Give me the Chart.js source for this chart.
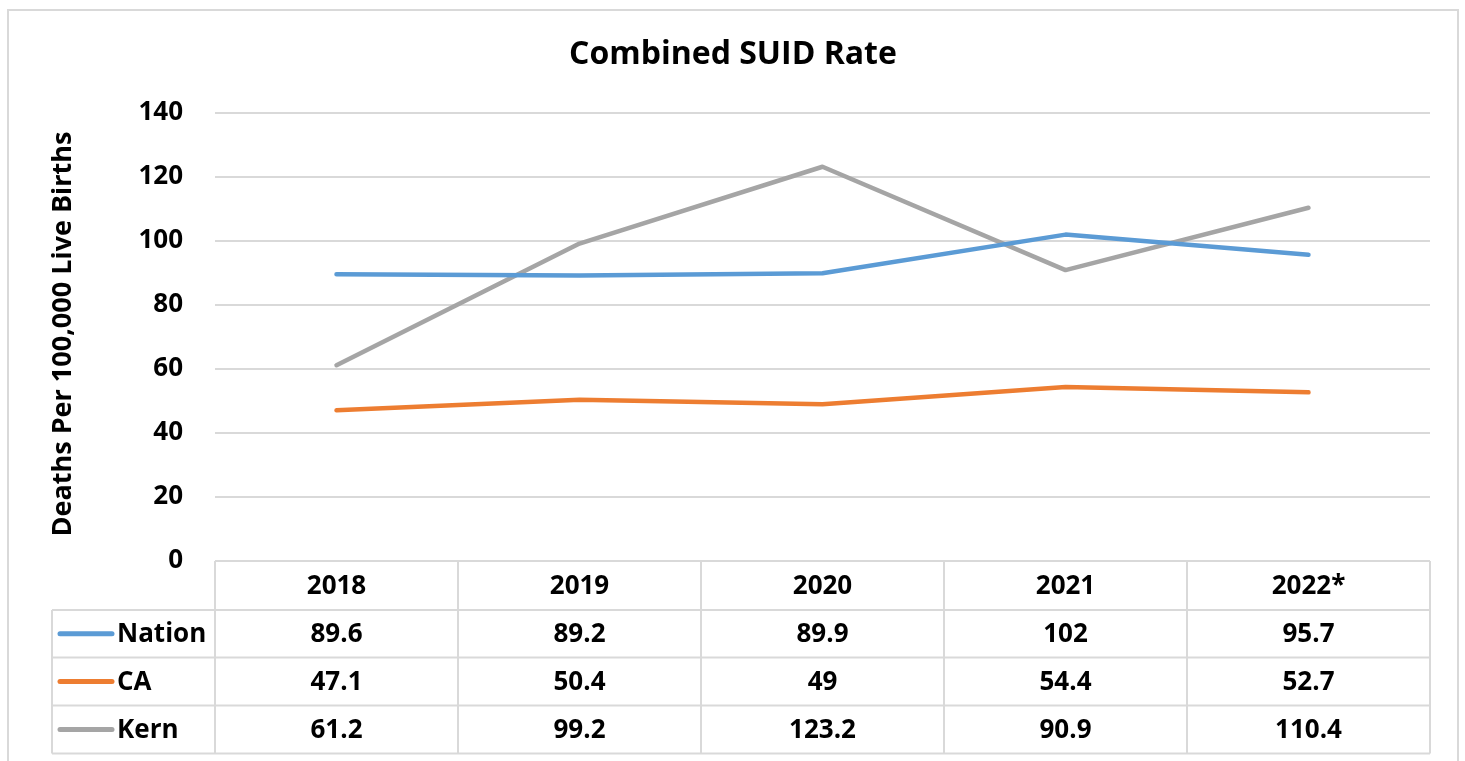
<!DOCTYPE html>
<html>
<head>
<meta charset="utf-8">
<script src="https://cdn.jsdelivr.net/npm/chart.js@4/dist/chart.umd.min.js"></script>
<style>
  html, body { margin: 0; padding: 0; background: #fff; }
  #wrap { width: 1465px; height: 761px; position: relative; }
</style>
</head>
<body>
<div id="wrap"><canvas id="c" width="1465" height="761"></canvas></div>
<script>
const chartTitle = "Combined SUID Rate";
const yAxisTitle = "Deaths Per 100,000 Live Births";
const categories = ["2018", "2019", "2020", "2021", "2022*"];
const seriesNames = ["Nation", "CA", "Kern"];
const nationValues = [89.6, 89.2, 89.9, 102, 95.7];
const caValues = [47.1, 50.4, 49, 54.4, 52.7];
const kernValues = [61.2, 99.2, 123.2, 90.9, 110.4];
const seriesColors = ["#5B9BD5", "#ED7D31", "#A5A5A5"];
const yTicks = [0, 20, 40, 60, 80, 100, 120, 140];

const FONT = "'Open Sans', Lato, sans-serif";
const GRID = "#D9D9D9";

const tablePlugin = {
  id: "tablePlugin",
  beforeDraw(chart) {
    const ctx = chart.ctx;
    ctx.save();
    ctx.fillStyle = "#fff";
    ctx.fillRect(0, 0, chart.width, chart.height);
    ctx.strokeStyle = GRID;
    ctx.lineWidth = 2;
    ctx.beginPath();
    ctx.moveTo(8, 780);
    ctx.lineTo(8, 10);
    ctx.lineTo(1458, 10);
    ctx.lineTo(1458, 780);
    ctx.stroke();
    ctx.restore();
  },
  afterDraw(chart) {
    const ctx = chart.ctx;
    const area = chart.chartArea;
    const xs = chart.scales.x;
    const ds = chart.data.datasets;
    const n = categories.length;
    const colW = (area.right - area.left) / n;
    const top = area.bottom;
    const rowH = [49, 47.5, 48, 48];
    const rowsY = [top];
    for (let i = 0; i < rowH.length; i++) rowsY.push(rowsY[i] + rowH[i]);
    const tableLeft = 52;

    ctx.save();
    ctx.strokeStyle = GRID;
    ctx.lineWidth = 2;
    ctx.beginPath();
    ctx.moveTo(area.left, rowsY[0]); ctx.lineTo(area.right, rowsY[0]);
    for (let r = 1; r < rowsY.length; r++) {
      ctx.moveTo(tableLeft, rowsY[r]); ctx.lineTo(area.right, rowsY[r]);
    }
    for (let i = 0; i <= n; i++) {
      const x = area.left + i * colW;
      ctx.moveTo(x, rowsY[0]); ctx.lineTo(x, rowsY[rowsY.length - 1]);
    }
    ctx.moveTo(tableLeft, rowsY[1]); ctx.lineTo(tableLeft, rowsY[rowsY.length - 1]);
    ctx.stroke();

    ctx.fillStyle = "#000";
    ctx.font = "bold 26px " + FONT;
    ctx.textAlign = "center";
    ctx.textBaseline = "middle";
    categories.forEach((c, i) => {
      ctx.fillText(c, xs.getPixelForValue(i), (rowsY[0] + rowsY[1]) / 2 + 1);
    });
    ds.forEach((d, r) => {
      const yc = (rowsY[r + 1] + rowsY[r + 2]) / 2 + 1;
      d.data.forEach((v, i) => {
        ctx.textAlign = "center";
        ctx.fillText(String(v), xs.getPixelForValue(i), yc);
      });
      ctx.strokeStyle = d.borderColor;
      ctx.lineWidth = 5;
      ctx.lineCap = "round";
      ctx.beginPath();
      ctx.moveTo(60, yc - 1); ctx.lineTo(112, yc - 1);
      ctx.stroke();
      ctx.textAlign = "left";
      ctx.fillText(d.label, 117, yc);
    });

    ctx.font = "bold 32px " + FONT;
    ctx.textAlign = "center";
    ctx.fillText(chartTitle, 733, 55);

    ctx.translate(63, 334);
    ctx.rotate(-Math.PI / 2);
    ctx.font = "bold 27px " + FONT;
    ctx.fillText(yAxisTitle, 0, 0);
    ctx.restore();
  }
};

new Chart(document.getElementById("c"), {
  type: "line",
  data: {
    labels: categories,
    datasets: [
      { label: seriesNames[0], data: nationValues, borderColor: seriesColors[0] },
      { label: seriesNames[1], data: caValues, borderColor: seriesColors[1] },
      { label: seriesNames[2], data: kernValues, borderColor: seriesColors[2] }
    ].map(d => Object.assign(d, {
      backgroundColor: d.borderColor, borderWidth: 4.5, pointRadius: 0,
      tension: 0, borderCapStyle: "round", borderJoinStyle: "round", fill: false
    }))
  },
  options: {
    responsive: false,
    animation: false,
    devicePixelRatio: 1,
    layout: { padding: { top: 113, left: 20, right: 35, bottom: 200 } },
    plugins: { legend: { display: false }, title: { display: false }, tooltip: { enabled: false } },
    scales: {
      x: { type: "category", offset: true, display: false },
      y: {
        min: 0, max: 140,
        afterFit(scale) { scale.width = 195; },
        afterBuildTicks(scale) { scale.ticks = yTicks.map(v => ({ value: v })); },
        border: { display: false },
        grid: { color: GRID, lineWidth: 2, drawTicks: false },
        ticks: { padding: 32, color: "#000", font: { family: FONT, size: 26, weight: "bold" } }
      }
    }
  },
  plugins: [tablePlugin]
});
</script>
</body>
</html>
